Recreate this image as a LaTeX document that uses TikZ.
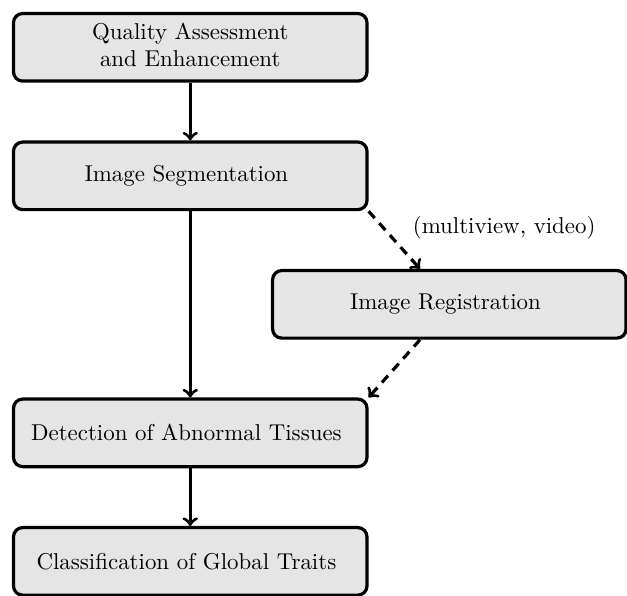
\documentclass[tikz,border=0pt]{standalone}
\usepackage{tikz}
\usetikzlibrary{matrix,arrows}

\newcommand{\qualitylabel}{\begin{tabular}{@{}c@{}}Quality Assessment\\and Enhancement\end{tabular}}

\begin{document}
\begin{tikzpicture}
  \tikzset{stagebox/.style={draw, line width=1.4pt, rounded corners=4pt, fill=black!10, minimum width=154.3pt, minimum height=29.5pt, align=center}}
  \matrix (m) [matrix of nodes, row sep=25.2pt, column sep=-42.6pt, nodes={stagebox}]
  {
	|[inner ysep=1.5pt]| \qualitylabel & \\
	Image Segmentation & \\
	& Image Registration \\
	Detection of Abnormal Tissues & \\
	Classification of Global Traits & \\
  }
;
  \path[->, line width=1.4pt]
  (m-1-1) edge (m-2-1)
  (m-2-1) edge (m-4-1)
  (m-4-1) edge (m-5-1)
  ;
  \path[->, line width=1.4pt, dash pattern=on 4pt off 3pt]
  (m-2-1.south east) edge node [pos=0.28, right=9pt] {(multiview, video)} ([xshift=-12.8pt]m-3-2.north)
  ([xshift=-12.8pt]m-3-2.south) edge (m-4-1.north east)
  ;
  \pgfresetboundingbox
  \path[use as bounding box] ([shift={(-5.2pt,5.2pt)}]m-1-1.north west) rectangle ([shift={(-0.3pt,0.4pt)}]m-3-2.east |- m-5-1.south);
\end{tikzpicture}
\end{document}
